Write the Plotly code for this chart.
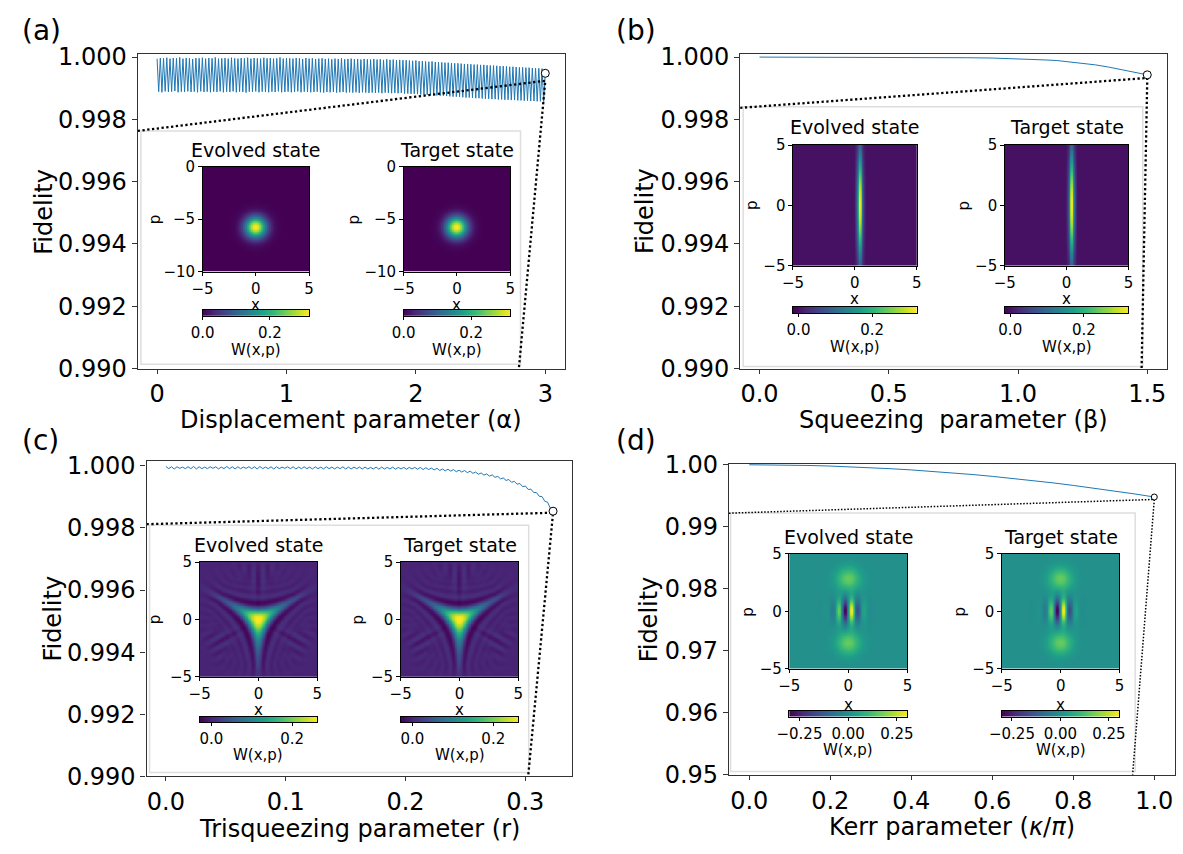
import numpy as np
import plotly.graph_objects as go

FIG_W, FIG_H = 1183, 854
FONT = "DejaVu Sans"
BLUE = "#1f77b4"
SPINE = "#333333"

# ---------------- fidelity data ----------------
alpha_fidelity = [
    0.99995, 0.99889, 0.99997, 0.99887, 0.99996, 0.99890, 0.99998, 0.99888, 0.99995, 0.99889,
    0.99997, 0.99891, 0.99996, 0.99887, 0.99999, 0.99889, 0.99995, 0.99888, 0.99997, 0.99890,
    0.99996, 0.99888, 0.99994, 0.99889, 0.99997, 0.99887, 0.99996, 0.99890, 0.99998, 0.99888,
    0.99995, 0.99889, 0.99997, 0.99887, 0.99996, 0.99889, 0.99999, 0.99888, 0.99995, 0.99890,
    0.99996, 0.99887, 0.99997, 0.99889, 0.99995, 0.99888, 0.99998, 0.99890, 0.99996, 0.99887,
    0.99995, 0.99889, 0.99997, 0.99888, 0.99996, 0.99886, 0.99998, 0.99889, 0.99995, 0.99888,
    0.99997, 0.99890, 0.99996, 0.99887, 0.99995, 0.99889, 0.99998, 0.99888, 0.99996, 0.99887,
    0.99997, 0.99889, 0.99995, 0.99888, 0.99996, 0.99890, 0.99999, 0.99887, 0.99995, 0.99888,
    0.99997, 0.99889, 0.99996, 0.99887, 0.99995, 0.99888, 0.99997, 0.99890, 0.99996, 0.99887,
    0.99994, 0.99889, 0.99997, 0.99888, 0.99995, 0.99887, 0.99996, 0.99888, 0.99994, 0.99889,
    0.99995, 0.99887, 0.99996, 0.99886, 0.99994, 0.99888, 0.99995, 0.99887, 0.99993, 0.99888,
    0.99995, 0.99886, 0.99994, 0.99887, 0.99996, 0.99888, 0.99993, 0.99886, 0.99994, 0.99887,
    0.99995, 0.99886, 0.99993, 0.99887, 0.99994, 0.99885, 0.99992, 0.99887, 0.99994, 0.99886,
    0.99993, 0.99885, 0.99992, 0.99886, 0.99994, 0.99885, 0.99992, 0.99886, 0.99993, 0.99884,
    0.99991, 0.99886, 0.99993, 0.99885, 0.99991, 0.99884, 0.99992, 0.99885, 0.99990, 0.99884,
    0.99991, 0.99885, 0.99990, 0.99883, 0.99990, 0.99883, 0.99989, 0.99882, 0.99988, 0.99882,
    0.99989, 0.99881, 0.99987, 0.99880, 0.99987, 0.99880, 0.99986, 0.99879, 0.99985, 0.99878,
    0.99986, 0.99878, 0.99984, 0.99877, 0.99984, 0.99876, 0.99983, 0.99876, 0.99982, 0.99875,
    0.99982, 0.99874, 0.99981, 0.99873, 0.99980, 0.99873, 0.99980, 0.99872, 0.99979, 0.99871,
    0.99978, 0.99870, 0.99978, 0.99870, 0.99977, 0.99869, 0.99976, 0.99868, 0.99976, 0.99868,
    0.99975, 0.99867, 0.99975, 0.99866, 0.99974, 0.99866, 0.99973, 0.99865, 0.99973, 0.99865,
    0.99972, 0.99864, 0.99971, 0.99864, 0.99971, 0.99863, 0.99970, 0.99863, 0.99969, 0.99862,
    0.99969, 0.99862, 0.99968, 0.99861, 0.99967, 0.99861, 0.99967, 0.99860, 0.99966, 0.99860,
    0.99966, 0.99859, 0.99965, 0.99859, 0.99964, 0.99858, 0.99964, 0.99858, 0.99963, 0.99857,
    0.99948,
]
alpha_values = np.linspace(0.0, 3.0, len(alpha_fidelity))

beta_values = [0.0, 0.1, 0.2, 0.3, 0.4, 0.5, 0.6, 0.7, 0.8, 0.9, 1.0, 1.05, 1.1,
               1.15, 1.2, 1.25, 1.3, 1.35, 1.4, 1.45, 1.5]
beta_fidelity = [1.00000, 1.00000, 1.00000, 0.99999, 0.99999, 0.99999, 0.99999,
                 0.99998, 0.99998, 0.99997, 0.99995, 0.99993, 0.99991, 0.99989,
                 0.99985, 0.99981, 0.99975, 0.99968, 0.99960, 0.99952, 0.99943]

r_fidelity = [
    0.99998, 0.99991, 0.99997, 0.99990, 0.99997, 0.99992, 0.99996, 0.99991, 0.99997, 0.99991,
    0.99998, 0.99990, 0.99997, 0.99991, 0.99996, 0.99991, 0.99997, 0.99992, 0.99997, 0.99990,
    0.99996, 0.99991, 0.99998, 0.99991, 0.99997, 0.99990, 0.99997, 0.99991, 0.99996, 0.99992,
    0.99997, 0.99991, 0.99997, 0.99990, 0.99998, 0.99991, 0.99996, 0.99991, 0.99997, 0.99990,
    0.99997, 0.99991, 0.99996, 0.99992, 0.99997, 0.99991, 0.99997, 0.99990, 0.99996, 0.99991,
    0.99997, 0.99991, 0.99996, 0.99990, 0.99997, 0.99991, 0.99996, 0.99990, 0.99997, 0.99991,
    0.99996, 0.99990, 0.99996, 0.99991, 0.99997, 0.99990, 0.99996, 0.99990, 0.99996, 0.99991,
    0.99996, 0.99990, 0.99996, 0.99990, 0.99995, 0.99990, 0.99996, 0.99989, 0.99996, 0.99990,
    0.99995, 0.99990, 0.99996, 0.99989, 0.99995, 0.99990, 0.99995, 0.99989, 0.99995,
    0.99990, 0.99995, 0.99989, 0.99995, 0.99988, 0.99994, 0.99988, 0.99993, 0.99987, 0.99992,
    0.99985, 0.99990, 0.99984, 0.99989, 0.99983, 0.99988, 0.99981, 0.99986, 0.99980, 0.99985,
    0.99978, 0.99983, 0.99976, 0.99980, 0.99973, 0.99977, 0.99970, 0.99974, 0.99967, 0.99971,
    0.99963, 0.99966, 0.99958, 0.99961, 0.99953, 0.99956, 0.99947, 0.99950, 0.99941, 0.99943,
    0.99933, 0.99935, 0.99924, 0.99925, 0.99914, 0.99914, 0.99902, 0.99901, 0.99886, 0.99883,
    0.99864, 0.99854,
]
r_values = np.linspace(0.0, 0.3232, len(r_fidelity))

kerr_values = [0.0, 0.05, 0.1, 0.15, 0.2, 0.25, 0.3, 0.35, 0.4, 0.45, 0.5,
               0.55, 0.6, 0.65, 0.7, 0.75, 0.8, 0.85, 0.9, 0.95, 1.0]
kerr_fidelity = [1.00000, 0.99999, 0.99995, 0.99988, 0.99979, 0.99968, 0.99953,
                 0.99936, 0.99917, 0.99895, 0.99870, 0.99843, 0.99813, 0.99780,
                 0.99745, 0.99708, 0.99667, 0.99624, 0.99579, 0.99531, 0.99480]

# connector (zoom-indicator) end points: start y, y on left spine, x on bottom spine
connector_a = [0.99924, 0.99763, 2.796]
connector_b = [0.99933, 0.99837, 1.478]
connector_c = [0.99849, 0.99812, 0.3024]
connector_d = [0.99441, 0.99219, 0.9465]

# tick labels
ticks_fid3 = [0.990, 0.992, 0.994, 0.996, 0.998, 1.000]
ticks_fid3_text = ["0.990", "0.992", "0.994", "0.996", "0.998", "1.000"]
ticks_fid2 = [0.95, 0.96, 0.97, 0.98, 0.99, 1.00]
ticks_fid2_text = ["0.95", "0.96", "0.97", "0.98", "0.99", "1.00"]

# ---------------- Wigner-function state parameters ----------------
disp_peak = [0.0, -5.8]          # (x, p) of displaced vacuum peak
sq_center_x = 0.4                # squeezed stripe centre
sq_beta = 1.5                    # squeezing parameter
tri_strength = 0.15              # effective cubic coupling matching the inset (c) shape
cat_lobe_p = 2.8                 # Kerr-cat lobe position
cbar_a = [0.0, 0.316]
cbar_b = [-0.015, 0.321]
cbar_c = [-0.029, 0.262]
cbar_d = [-0.302, 0.304]

NG = 161
xg = np.linspace(-5, 5, NG)
pg_a = np.linspace(-10, 0, NG)
pg = np.linspace(-5, 5, NG)


def wigner_from_fock(psi, xv, pv):
    X, P = np.meshgrid(xv, pv)
    A = (X + 1j * P) / np.sqrt(2.0)
    n = len(psi)
    rho = np.outer(psi, np.conj(psi))
    wl = [None] * n
    wl[0] = np.exp(-2.0 * np.abs(A) ** 2) / np.pi
    W = np.real(rho[0, 0]) * np.real(wl[0])
    for k in range(1, n):
        wl[k] = 2.0 * A * wl[k - 1] / np.sqrt(k)
        W = W + 2.0 * np.real(rho[0, k] * wl[k])
    for m in range(1, n):
        temp = wl[m].copy()
        wl[m] = (2.0 * np.conj(A) * temp - np.sqrt(m) * wl[m - 1]) / np.sqrt(m)
        W = W + np.real(rho[m, m] * wl[m])
        for k in range(m + 1, n):
            temp2 = (2.0 * A * wl[k - 1] - np.sqrt(m) * temp) / np.sqrt(k)
            temp = wl[k].copy()
            wl[k] = temp2
            W = W + 2.0 * np.real(rho[m, k] * wl[k])
    return W


def trisqueezed(r, nf):
    a = np.diag(np.sqrt(np.arange(1, nf)), 1)
    a3 = a @ a @ a
    H = -r * (a3 + a3.T)
    ev, V = np.linalg.eigh(H)
    return V @ (np.exp(-1j * ev) * V[0, :])


Xa, Pa = np.meshgrid(xg, pg_a)
X, P = np.meshgrid(xg, pg)
W_a = np.exp(-(Xa - disp_peak[0]) ** 2 - (Pa - disp_peak[1]) ** 2) / np.pi
W_b = np.exp(-((X - sq_center_x) ** 2) * np.exp(2 * sq_beta) - P ** 2 * np.exp(-2 * sq_beta)) / np.pi
W_c = wigner_from_fock(trisqueezed(tri_strength, 42), xg, pg)
W_d = (np.exp(-X ** 2 - (P - cat_lobe_p) ** 2) + np.exp(-X ** 2 - (P + cat_lobe_p) ** 2)
       + 2 * np.exp(-X ** 2 - P ** 2) * np.sin(2 * cat_lobe_p * X)) / (2 * np.pi)

# ---------------- layout geometry (pixels) ----------------
panels = [
    dict(label="(a)", lab_xy=(7.5, 19), box=(126.7, 43.3, 560.7, 367.7), xr=[-0.15, 3.15],
         yr=[0.990, 1.0001], xt=[0, 1, 2, 3], xtt=["0", "1", "2", "3"], yt=ticks_fid3, ytt=ticks_fid3_text,
         xs=alpha_values, ys=alpha_fidelity, conn=connector_a, lw=2.3, msize=8,
         xtitle="Displacement parameter (α)", xtitle_y=421, ytitle_x=32,
         frame=(130, 122.7, 515.8, 363.3),
         hm=[(192.7, 159.7, 300.9, 267.7), (397, 159.7, 505.3, 267.7)], p_x=[144.4, 346.9],
         cb_y=(307.3, 313.3), cb=cbar_a, cbt=[0.0, 0.2], cbtt=["0.0", "0.2"],
         W=W_a, pv=pg_a, hyr=[-10, 0], hyt=[0, -5, -10], title_y=142, xl_y=302, wl_y=348.5),
    dict(label="(b)", lab_xy=(611, 19), box=(739, 43.3, 1172.5, 367.7), xr=[-0.075, 1.575],
         yr=[0.990, 1.0001], xt=[0, 0.5, 1.0, 1.5], xtt=["0.0", "0.5", "1.0", "1.5"], yt=ticks_fid3,
         ytt=ticks_fid3_text, xs=beta_values, ys=beta_fidelity, conn=connector_b, lw=2.3, msize=8,
         xtitle="Squeezing\u00a0 parameter (β)", xtitle_y=421, ytitle_x=643,
         frame=(742.1, 97.7, 1148.2, 365.7),
         hm=[(792.7, 137.3, 918.5, 261.7), (1007.9, 137.3, 1133.7, 261.7)], p_x=[751.6, 966.7],
         cb_y=(304, 310.7), cb=cbar_b, cbt=[0.0, 0.2], cbtt=["0.0", "0.2"],
         W=W_b, pv=pg, hyr=[-5, 5], hyt=[5, 0, -5], title_y=118.5, xl_y=296.5, wl_y=345.5),
    dict(label="(c)", lab_xy=(7.5, 442), box=(135.7, 463.3, 568.6, 788.3), xr=[-0.0162, 0.3394],
         yr=[0.990, 1.00015], xt=[0, 0.1, 0.2, 0.3], xtt=["0.0", "0.1", "0.2", "0.3"], yt=ticks_fid3,
         ytt=ticks_fid3_text, xs=r_values, ys=r_fidelity, conn=connector_c, lw=2.3, msize=8,
         xtitle="Trisqueezing parameter (r)", xtitle_y=842.5, ytitle_x=40.5,
         frame=(138.8, 529.3, 524.1, 784.3),
         hm=[(189.7, 567.3, 309.2, 685.7), (394, 567.3, 513.6, 685.7)], p_x=[145.2, 350.7],
         cb_y=(726.7, 732.3), cb=cbar_c, cbt=[0.0, 0.2], cbtt=["0.0", "0.2"],
         W=W_c, pv=pg, hyr=[-5, 5], hyt=[5, 0, -5], title_y=549.5, xl_y=719.5, wl_y=766.5),
    dict(label="(d)", lab_xy=(610.5, 442), box=(727.7, 465.7, 1180.5, 786.7), xr=[-0.05, 1.05],
         yr=[0.95, 1.0002], xt=[0, 0.2, 0.4, 0.6, 0.8, 1.0],
         xtt=["0.0", "0.2", "0.4", "0.6", "0.8", "1.0"], yt=ticks_fid2, ytt=ticks_fid2_text,
         xs=kerr_values, ys=kerr_fidelity, conn=connector_d, lw=1.5, msize=6,
         xtitle="Kerr parameter (<i>κ</i>/<i>π</i>)", xtitle_y=840.5, ytitle_x=646.6,
         frame=(729.3, 516.7, 1140.5, 783.3),
         hm=[(789, 559, 909, 677.3), (1005, 559, 1124.5, 677.3)], p_x=[747.5, 962.7],
         cb_y=(721, 726.7), cb=cbar_d, cbt=[-0.25, 0.0, 0.25], cbtt=["\u22120.25", "0.00", "0.25"],
         W=W_d, pv=pg, hyr=[-5, 5], hyt=[5, 0, -5], title_y=541, xl_y=715, wl_y=761.5),
]


def dom_x(x0, x1):
    return [x0 / FIG_W, x1 / FIG_W]


def dom_y(top, bottom):
    return [1 - bottom / FIG_H, 1 - top / FIG_H]


def names(i):
    s = "" if i == 1 else str(i)
    return "xaxis" + s, "yaxis" + s, "x" + s, "y" + s


def ann(text, px, py, size, **kw):
    d = dict(text=text, x=px / FIG_W, y=1 - py / FIG_H, xref="paper", yref="paper",
             showarrow=False, font=dict(family=FONT, size=size, color="black"),
             xanchor="center", yanchor="middle")
    d.update(kw)
    return d


fig = go.Figure()
layout = {}
annotations = []
shapes = []

# main panels
for i, pnl in enumerate(panels, start=1):
    xa, ya, xr_, yr_ = names(i)
    x0, top, x1, bot = pnl["box"]
    layout[xa] = dict(domain=dom_x(x0, x1), range=pnl["xr"], anchor=yr_, tickvals=pnl["xt"],
                      ticktext=pnl["xtt"], ticks="outside", ticklen=4, tickwidth=1.2, tickcolor=SPINE,
                      showline=True, mirror=True, linecolor=SPINE, linewidth=1.2, showgrid=False,
                      zeroline=False, tickfont=dict(family=FONT, size=24, color="black"))
    layout[ya] = dict(domain=dom_y(top, bot), range=pnl["yr"], anchor=xr_, tickvals=pnl["yt"],
                      ticktext=pnl["ytt"], ticks="outside", ticklen=5, tickwidth=1.2, tickcolor=SPINE,
                      showline=True, mirror=True, linecolor=SPINE, linewidth=1.2, showgrid=False,
                      zeroline=False, tickfont=dict(family=FONT, size=24, color="black"))
    fig.add_trace(go.Scatter(x=pnl["xs"], y=pnl["ys"], mode="lines", line=dict(color=BLUE, width=1),
                             xaxis=xr_, yaxis=yr_, hoverinfo="skip", showlegend=False))
    xe = pnl["xs"][-1]
    ye = pnl["ys"][-1]
    cs, cl, cbx = pnl["conn"]
    dash = "%.1fpx,%.1fpx" % (pnl["lw"], pnl["lw"] * 1.1)
    fig.add_trace(go.Scatter(x=[pnl["xr"][0], xe, cbx], y=[cl, cs, pnl["yr"][0]], mode="lines",
                             line=dict(color="black", width=pnl["lw"], dash=dash),
                             xaxis=xr_, yaxis=yr_, hoverinfo="skip", showlegend=False))
    fig.add_trace(go.Scatter(x=[xe], y=[ye], mode="markers",
                             marker=dict(size=pnl["msize"], color="white", line=dict(color="black", width=1)),
                             xaxis=xr_, yaxis=yr_, hoverinfo="skip", showlegend=False, cliponaxis=False))
    annotations.append(ann(pnl["label"], pnl["lab_xy"][0], pnl["lab_xy"][1], 28, xanchor="left"))
    annotations.append(ann(pnl["xtitle"], (x0 + x1) / 2, pnl["xtitle_y"], 24))
    annotations.append(ann("Fidelity", pnl["ytitle_x"], (top + bot) / 2, 24, textangle=-90))
    fx0, ft, fx1, fb = pnl["frame"]
    shapes.append(dict(type="rect", xref="paper", yref="paper", x0=fx0 / FIG_W, x1=fx1 / FIG_W,
                       y0=1 - fb / FIG_H, y1=1 - ft / FIG_H, line=dict(color="#dedede", width=1.5),
                       fillcolor="white", layer="below"))

# insets
idx = 5
for pnl in panels:
    for j, title in enumerate(["Evolved state", "Target state"]):
        hx0, ht, hx1, hb = pnl["hm"][j]
        xa, ya, xr_, yr_ = names(idx)
        layout[xa] = dict(domain=dom_x(hx0, hx1), range=[-5, 5], anchor=yr_, tickvals=[-5, 0, 5],
                          ticks="outside", ticklen=3.5, tickwidth=1, tickcolor="black", showline=True,
                          mirror=True, linecolor="black", linewidth=1, showgrid=False, zeroline=False,
                          tickfont=dict(family=FONT, size=15, color="black"))
        layout[ya] = dict(domain=dom_y(ht, hb), range=pnl["hyr"], anchor=xr_, tickvals=pnl["hyt"],
                          ticks="outside", ticklen=3.5, tickwidth=1, tickcolor="black", showline=True,
                          mirror=True, linecolor="black", linewidth=1, showgrid=False, zeroline=False,
                          tickfont=dict(family=FONT, size=15, color="black"))
        fig.add_trace(go.Heatmap(x=xg, y=pnl["pv"], z=pnl["W"], colorscale="Viridis",
                                 zmin=pnl["cb"][0], zmax=pnl["cb"][1], showscale=False,
                                 xaxis=xr_, yaxis=yr_, hoverinfo="skip"))
        annotations.append(ann(title, (hx0 + hx1) / 2, pnl["title_y"], 19))
        annotations.append(ann("x", (hx0 + hx1) / 2, pnl["xl_y"], 15))
        annotations.append(ann("p", pnl["p_x"][j], (ht + hb) / 2, 15, textangle=-90))
        # colour bar
        cxa, cya, cxr, cyr = names(idx + 8)
        cbt, cbb = pnl["cb_y"]
        layout[cxa] = dict(domain=dom_x(hx0, hx1), range=pnl["cb"], anchor=cyr, tickvals=pnl["cbt"],
                           ticktext=pnl["cbtt"], ticks="outside", ticklen=3, tickwidth=1,
                           tickcolor="black", showline=True, mirror=True, linecolor="black",
                           linewidth=1, showgrid=False, zeroline=False,
                           tickfont=dict(family=FONT, size=15, color="black"))
        layout[cya] = dict(domain=dom_y(cbt, cbb), range=[0, 1], anchor=cxr, showticklabels=False,
                           ticks="", showline=True, mirror=True, linecolor="black", linewidth=1,
                           showgrid=False, zeroline=False)
        ramp = np.linspace(pnl["cb"][0], pnl["cb"][1], 256)
        fig.add_trace(go.Heatmap(x=ramp, y=[0, 1], z=[ramp, ramp], colorscale="Viridis",
                                 zmin=pnl["cb"][0], zmax=pnl["cb"][1], showscale=False,
                                 xaxis=cxr, yaxis=cyr, hoverinfo="skip"))
        annotations.append(ann("W(x,p)", (hx0 + hx1) / 2, pnl["wl_y"], 15))
        idx += 1

fig.update_layout(width=FIG_W, height=FIG_H, margin=dict(l=0, r=0, t=0, b=0), autosize=False,
                  paper_bgcolor="white", plot_bgcolor="rgba(0,0,0,0)",
                  font=dict(family=FONT, color="black"), showlegend=False,
                  annotations=annotations, shapes=shapes, **layout)
fig.write_html("out.html")
